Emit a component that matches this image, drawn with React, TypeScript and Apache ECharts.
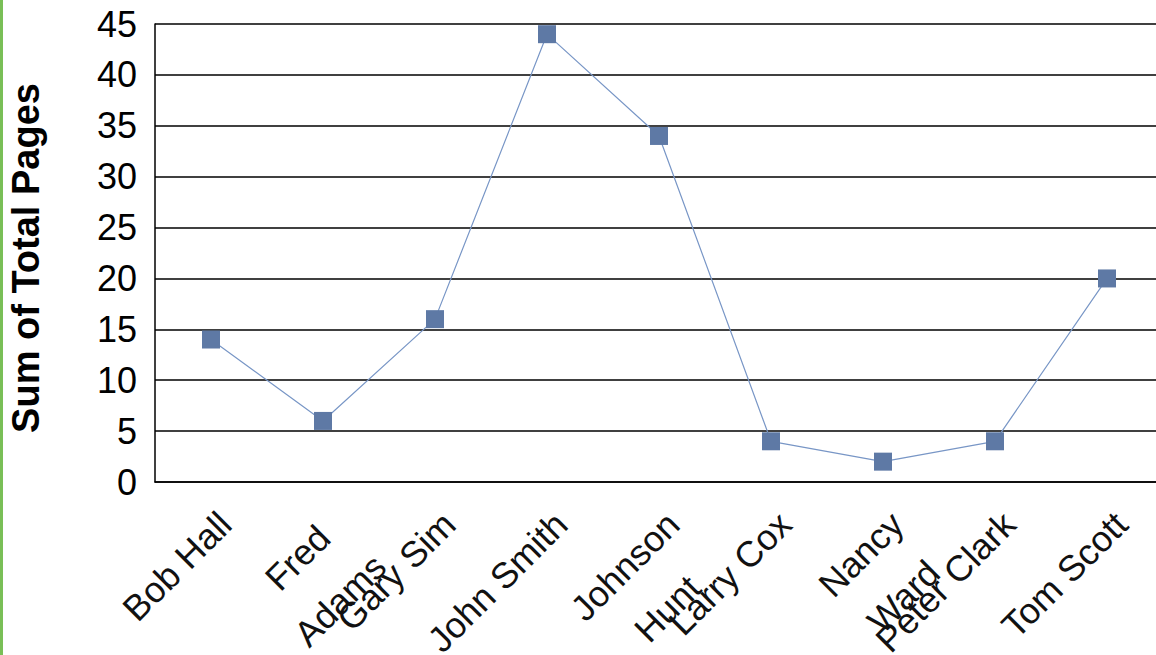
import React, { useEffect, useRef } from "react";
import * as echarts from "echarts";

const categories = [
  "Bob Hall",
  "Fred\nAdams",
  "Gary Sim",
  "John Smith",
  "Johnson\nHunt",
  "Larry Cox",
  "Nancy\nWard",
  "Peter Clark",
  "Tom Scott",
];
const totalPages = [14, 6, 16, 44, 34, 4, 2, 4, 20];
const yMin = 0;
const yMax = 45;
const yStep = 5;
const yTitle = "Sum of Total Pages";

const FONT = "'Liberation Sans', Arial, sans-serif";

export default function App() {
  const ref = useRef<HTMLDivElement>(null);
  useEffect(() => {
    if (!ref.current) return;
    const chart = echarts.init(ref.current, null, { renderer: "svg" });
    chart.setOption({
      animation: false,
      backgroundColor: "#ffffff",
      graphic: [
        {
          type: "rect",
          left: 0,
          top: 0,
          shape: { width: 3, height: 655 },
          style: { fill: "#79bf57" },
        },
      ],
      grid: {
        left: 155,
        right: -7,
        top: 24,
        bottom: 173,
        containLabel: false,
        outerBoundsMode: "none",
      },
      xAxis: {
        type: "category",
        data: categories,
        boundaryGap: true,
        axisLine: { show: true, lineStyle: { color: "#000", width: 1.5 } },
        axisTick: { show: false },
        splitLine: { show: false },
        axisLabel: {
          interval: 0,
          rotate: 45,
          align: "right",
          verticalAlign: "top",
          margin: 8,
          padding: [0, 10, 0, 0],
          fontFamily: FONT,
          fontSize: 36,
          color: "#111",
          formatter: (v: string) =>
            v
              .split("\n")
              .map((s) => `{c|${s}}`)
              .join("\n"),
          rich: {
            c: {
              align: "center",
              fontFamily: FONT,
              fontSize: 36,
              lineHeight: 60,
              color: "#111",
            },
          },
        },
      },
      yAxis: {
        type: "value",
        min: yMin,
        max: yMax,
        interval: yStep,
        name: yTitle,
        nameLocation: "middle",
        nameGap: 110,
        nameRotate: 90,
        nameMoveOverlap: false,
        nameTextStyle: {
          fontFamily: FONT,
          fontSize: 38,
          fontWeight: "bold",
          color: "#000",
          padding: [0, 10, 0, 0],
        },
        axisLine: { show: true, lineStyle: { color: "#000", width: 1.5 } },
        axisTick: { show: false },
        splitLine: { show: true, lineStyle: { color: "#000", width: 1.5 } },
        axisLabel: {
          margin: 18,
          fontFamily: FONT,
          fontSize: 36,
          color: "#000",
        },
      },
      series: [
        {
          type: "line",
          data: totalPages,
          symbol: "rect",
          symbolSize: 18,
          lineStyle: { color: "#7896c6", width: 1.2 },
          itemStyle: { color: "#5e79a5" },
        },
      ],
    });
    return () => chart.dispose();
  }, []);
  return (
    <div
      ref={ref}
      style={{ position: "fixed", left: 0, top: 0, width: 1156, height: 655 }}
    />
  );
}
